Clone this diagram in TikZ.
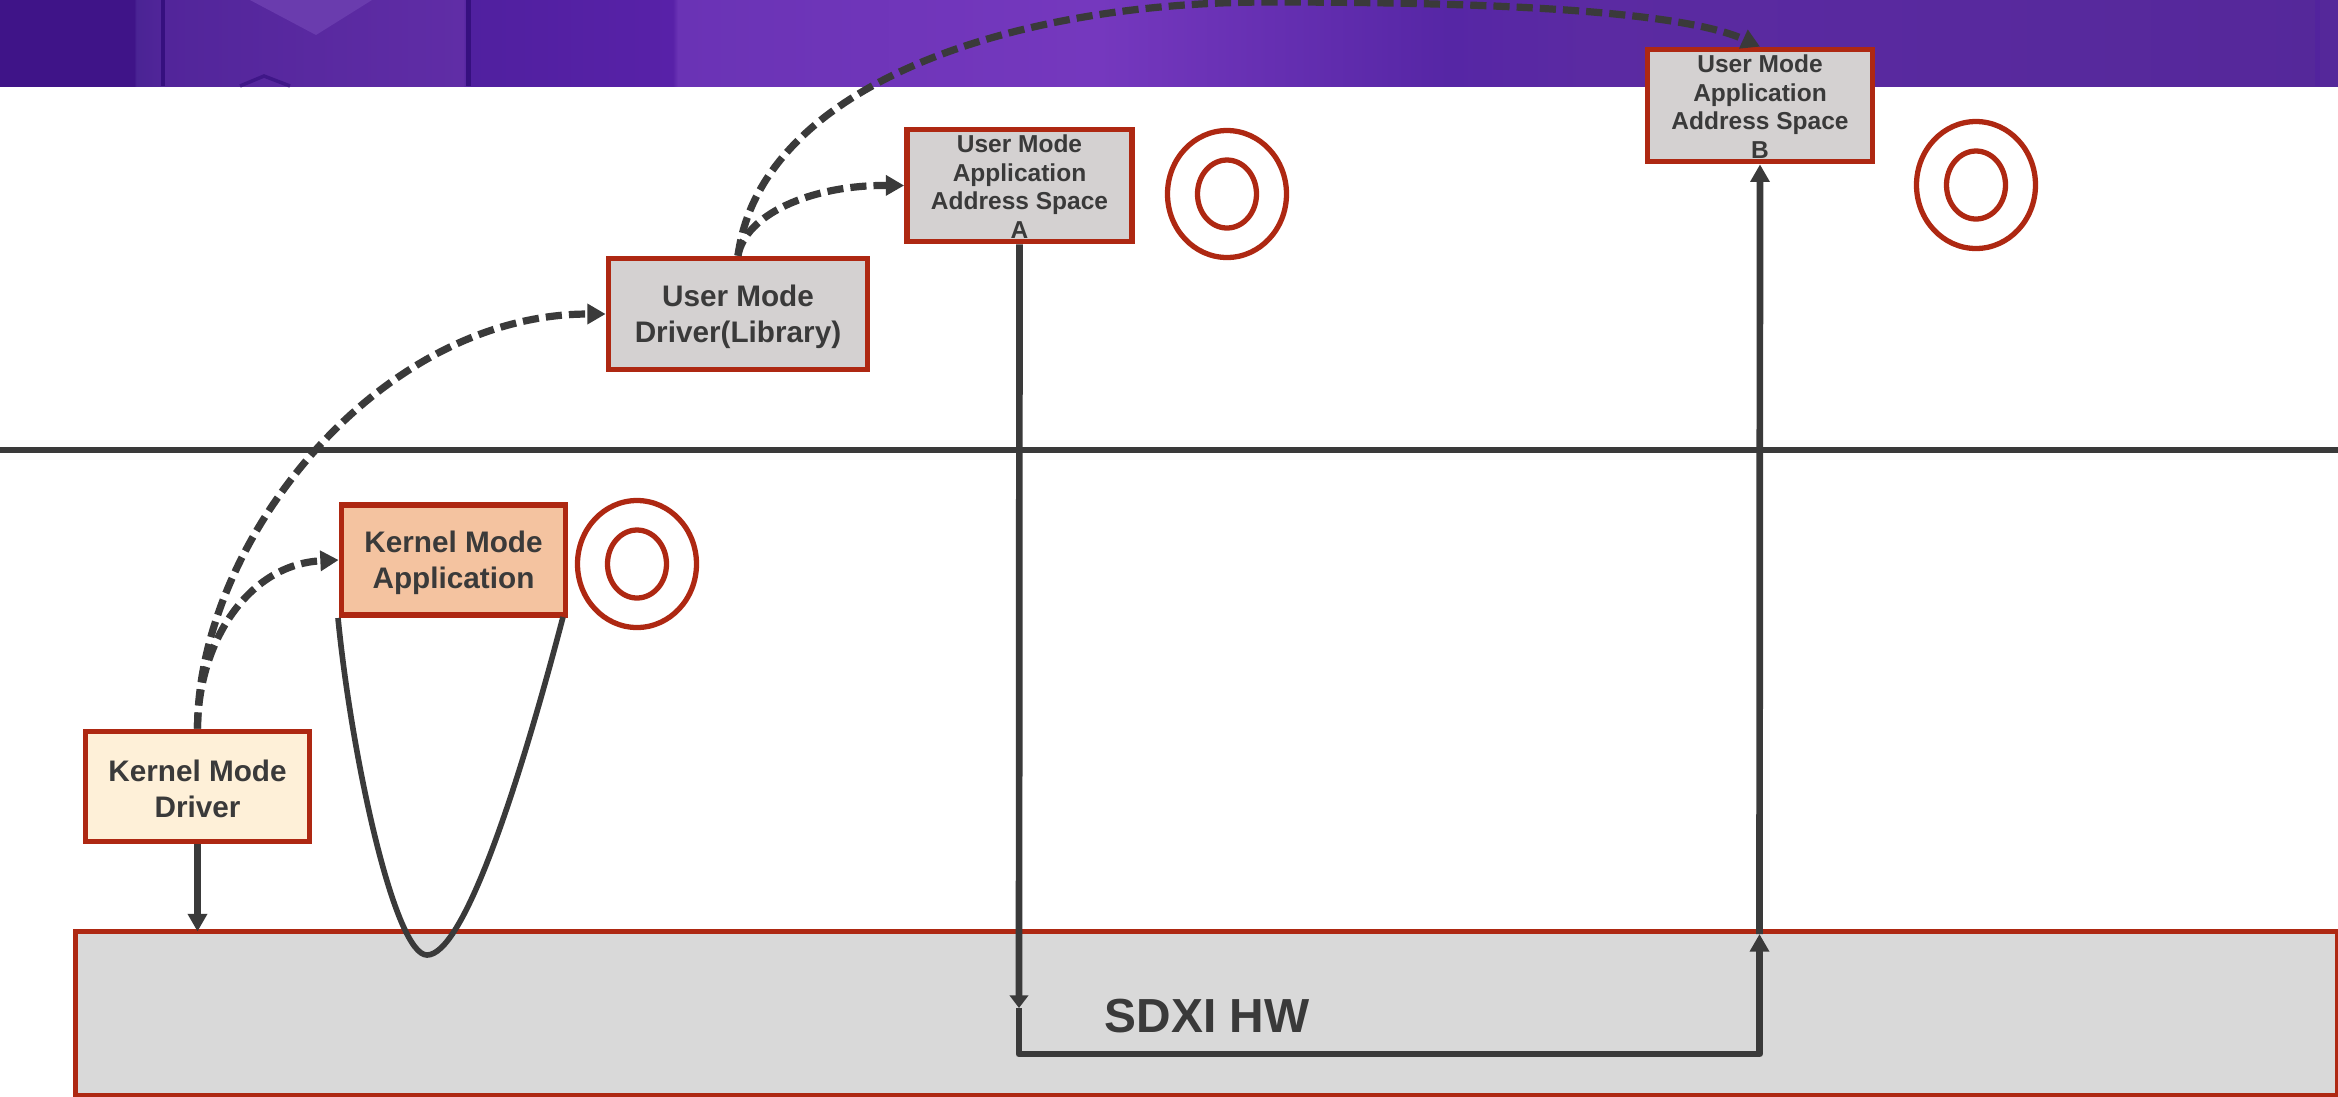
\documentclass[tikz,border=0pt]{standalone}
\usepackage{fontspec}
\setmainfont{Liberation Sans}
\usetikzlibrary{arrows.meta}
\definecolor{ink}{HTML}{3A3A3A}
\definecolor{brick}{HTML}{AE2812}
\definecolor{greybox}{HTML}{D4D1D1}
\definecolor{hwgrey}{HTML}{D9D9D9}
\definecolor{kmafill}{HTML}{F4C3A0}
\definecolor{kmdfill}{HTML}{FEF0D8}
\definecolor{bandA}{HTML}{3F1488}
\definecolor{bandB}{HTML}{4A2494}
\definecolor{bandC}{HTML}{52259A}
\definecolor{bandD}{HTML}{602DA6}
\definecolor{bandE}{HTML}{50209F}
\definecolor{bandF}{HTML}{5821A8}
\definecolor{bandG}{HTML}{6A33B5}
\definecolor{bandH}{HTML}{7538BE}
\definecolor{bandI}{HTML}{5626A5}
\definecolor{bandJ}{HTML}{5B2AA2}
\definecolor{bandK}{HTML}{55289A}
\definecolor{bandLine}{HTML}{36107F}
\definecolor{bandLight}{HTML}{6A3CAE}
\pgfdeclarehorizontalshading{bandshade}{100bp}{
  color(0bp)=(bandA); color(27.87bp)=(bandA); color(27.92bp)=(bandB); color(28.55bp)=(bandC);
  color(34.9bp)=(bandD); color(35bp)=(bandE); color(39.39bp)=(bandF); color(39.5bp)=(bandG);
  color(48.5bp)=(bandH); color(56bp)=(bandI); color(59bp)=(bandJ); color(75bp)=(bandK); color(100bp)=(bandK)}
\newcommand{\nudgeL}{\rule{0pt}{7.6pt}}
\newcommand{\nudgeS}{\rule{0pt}{5.6pt}}
\tikzset{
  x=0.01cm, y=-0.01cm,
  box/.style={draw=brick, line width=1.6pt, inner sep=0pt, align=center, text=ink, font=\bfseries\fontsize{8.45}{10.24}\selectfont},
  smallbox/.style={box, fill=greybox, minimum width=2.25cm, minimum height=1.12cm, font=\bfseries\fontsize{6.97}{8.1}\selectfont},
  ring/.style={draw=brick, line width=1.5pt},
  solidarrow/.style={draw=ink, line width=1.9pt, line join=round, -{Triangle[length=5pt,width=5.3pt]}},
  shortarrow/.style={draw=ink, line width=1.9pt, -{Triangle[length=3.6pt,width=5.2pt]}},
  dasharrow/.style={draw=ink, line width=2.05pt, dash pattern=on 4.6pt off 2pt, -{Triangle[length=5.2pt,width=5.6pt]}},
}
\begin{document}
\begin{tikzpicture}
\useasboundingbox (0,0) rectangle (2338,1096);
% banner
\shade[shading=bandshade] (0,0) rectangle (2338,86);
\fill[bandLight] (250,0) -- (372,0) -- (316,35) -- cycle;
\fill[bandLine] (161,0) rectangle (165,86);
\fill[bandLine] (466,0) rectangle (471,86);
\fill[bandE, opacity=.6] (2315,0) rectangle (2320,86);
\draw[bandLine, opacity=.7, line width=1pt] (240,86) -- (264,76) -- (290,86);
% hardware block
\node[draw=brick, fill=hwgrey, line width=1.5pt, outer sep=0pt, minimum width=22.605cm, minimum height=1.64cm, anchor=north west, inner sep=0pt] (hw) at (75.5,931.5) {};
\node[text=ink, font=\bfseries\fontsize{13.6}{16}\selectfont] (hwlabel) at (1207,1016) {SDXI HW};
% divider
\coordinate (divL) at (0,450);
\coordinate (divR) at (2338,450);
\draw[draw=ink, line width=1.7pt] (divL) -- (divR);
% boxes
\node[box, fill=kmdfill, minimum width=2.24cm, minimum height=1.10cm] (kmd) at (197.5,786.5) {\nudgeL Kernel Mode\\Driver};
\node[box, fill=kmafill, minimum width=2.24cm, minimum height=1.10cm] (kma) at (453.5,560) {\nudgeL Kernel Mode\\Application};
\node[box, fill=greybox, minimum width=2.59cm, minimum height=1.11cm] (umd) at (738,314) {\nudgeL User Mode\\Driver(Library)};
\node[smallbox] (appa) at (1019.5,185.5) {\nudgeS User Mode\\Application\\Address Space\\A};
\node[smallbox] (appb) at (1760,105.5) {\nudgeS User Mode\\Application\\Address Space\\B};
% rings
\draw[ring] (637,564) ellipse [x radius=59.5, y radius=63.5];
\draw[ring] (637,564) ellipse [x radius=29.5, y radius=34];
\draw[ring] (1227,194) ellipse [x radius=59.5, y radius=63.5];
\draw[ring] (1227,194) ellipse [x radius=29.5, y radius=34];
\draw[ring] (1976,185) ellipse [x radius=59.5, y radius=63.5];
\draw[ring] (1976,185) ellipse [x radius=29.5, y radius=34];
% connectors
\draw[solidarrow] (kmd.south) -- (kmd.south |- hw.north);
\draw[dasharrow] (kmd.north) .. controls (198,540) and (380,314) .. (umd.west);
\draw[dasharrow] (kmd.north) .. controls (198,640) and (250,564) .. (kma.west);
\draw[dasharrow] (umd.north) .. controls (745,215) and (810,185) .. (appa.west);
\coordinate (apex) at (1270,2);
\draw[dasharrow] (umd.north) .. controls (760,90) and (1000,2) .. (apex) .. controls (1480,2) and (1680,10) .. (appb.north);
\coordinate (kmaL) at (338,618);
\coordinate (kmaR) at (563,617);
\coordinate (kmaB) at (427,955);
\draw[draw=ink, line width=1.6pt] (kmaL) .. controls (352,760) and (395,955) .. (kmaB) .. controls (462,955) and (515,800) .. (kmaR);
% copy path
\coordinate (downTip) at (1019,1008);
\coordinate (cornerL) at (1019,1054);
\coordinate (cornerR) at (1759.5,1054);
\coordinate (upTip) at (1759.5,934);
\draw[shortarrow] (appa.south) -- (downTip);
\draw[solidarrow] (downTip) -- (cornerL) -- (cornerR) -- (upTip);
\draw[solidarrow] (upTip) -- (appb.south);
\end{tikzpicture}
\end{document}
